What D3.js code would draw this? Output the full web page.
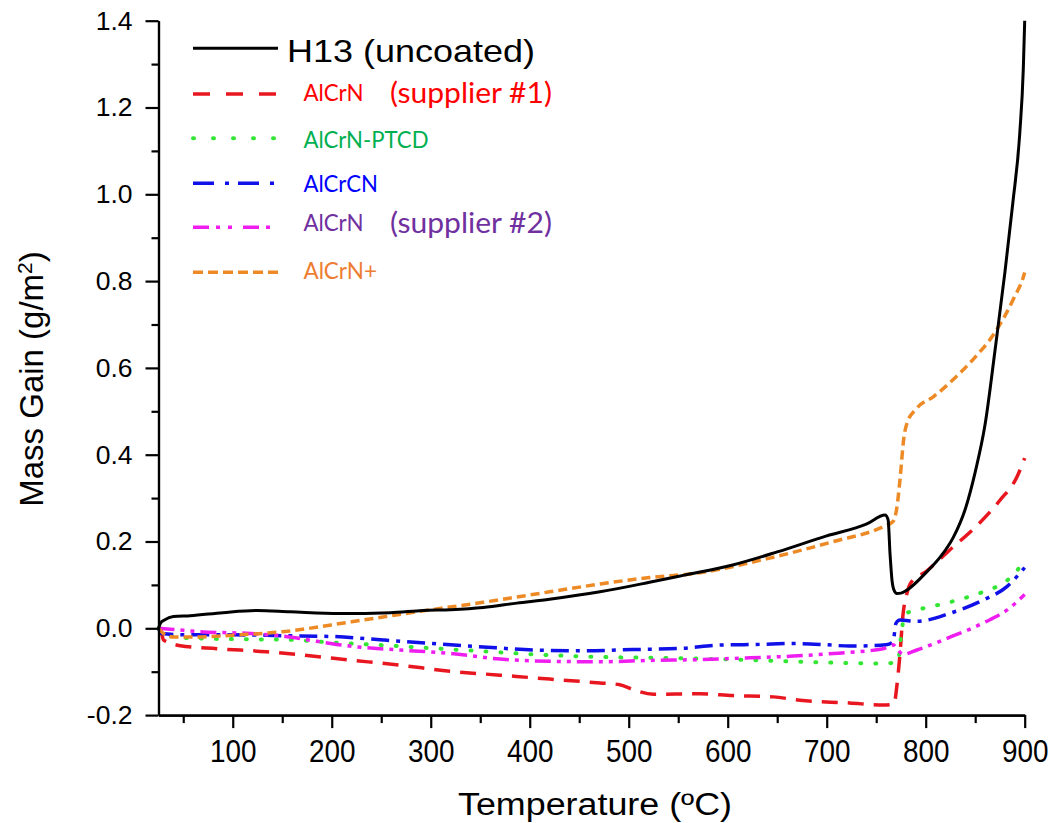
<!DOCTYPE html>
<html>
<head>
<meta charset="utf-8">
<script src="https://cdn.jsdelivr.net/npm/d3@7"></script>
<style>
  body { margin: 0; background: #fff; }
  .axis path, .axis line { stroke: #000; stroke-width: 2.2; }
  .axis text { font-family: "Liberation Sans", Arial, sans-serif; fill: #000; }
</style>
</head>
<body>
<script>
// Temperature (C) and mass gain (g/m2) for each sample
var tempH13 = [25, 27, 31, 40, 57, 90, 124, 158, 208, 259, 292, 320, 353, 387, 420, 471, 521, 555, 605, 650, 700, 740, 759, 762, 764, 766, 768, 771, 775, 781, 801, 815, 828, 840, 850, 860, 870, 880, 888, 895, 898.6, 900];
var massH13 = [0.0, 0.012, 0.019, 0.027, 0.029, 0.036, 0.041, 0.038, 0.034, 0.036, 0.041, 0.043, 0.048, 0.058, 0.067, 0.084, 0.106, 0.122, 0.146, 0.176, 0.213, 0.240, 0.261, 0.25, 0.17, 0.11, 0.088, 0.080, 0.081, 0.088, 0.130, 0.165, 0.210, 0.275, 0.360, 0.470, 0.640, 0.820, 0.980, 1.14, 1.29, 1.40];

var tempSup1 = [25, 28, 30, 47, 84, 134, 168, 218, 269, 320, 370, 420, 471, 491, 504, 525, 572, 605, 646, 673, 723, 757, 768, 771, 774, 777, 781, 785, 801, 824, 851, 875, 892, 900];
var massSup1 = [0.0, -0.01, -0.027, -0.040, -0.047, -0.054, -0.061, -0.073, -0.085, -0.099, -0.108, -0.117, -0.126, -0.130, -0.141, -0.152, -0.151, -0.155, -0.158, -0.166, -0.172, -0.177, -0.174, -0.13, -0.06, 0.03, 0.08, 0.105, 0.132, 0.180, 0.235, 0.295, 0.348, 0.392];

var tempPTCD = [25, 28, 50, 101, 151, 202, 252, 302, 353, 404, 471, 521, 572, 622, 673, 723, 757, 772, 775, 779, 791, 824, 858, 882, 893, 900];
var massPTCD = [0.0, -0.008, -0.022, -0.025, -0.026, -0.033, -0.039, -0.046, -0.053, -0.060, -0.066, -0.068, -0.070, -0.073, -0.077, -0.080, -0.081, -0.078, -0.02, 0.033, 0.042, 0.060, 0.084, 0.110, 0.135, 0.165];

var tempCN = [25, 28, 50, 101, 151, 202, 252, 302, 353, 404, 454, 504, 555, 589, 633, 666, 700, 723, 760, 767, 770, 774, 791, 825, 858, 882, 900];
var massCN = [0.0, -0.012, -0.015, -0.015, -0.017, -0.019, -0.027, -0.035, -0.043, -0.050, -0.052, -0.049, -0.046, -0.039, -0.037, -0.035, -0.038, -0.041, -0.038, -0.031, 0.012, 0.019, 0.016, 0.035, 0.065, 0.096, 0.140];

var tempSup2 = [25, 37, 67, 118, 151, 185, 218, 269, 320, 370, 420, 471, 521, 572, 622, 666, 707, 757, 767, 772, 777, 791, 825, 858, 882, 900];
var massSup2 = [0.0, -0.002, -0.008, -0.012, -0.018, -0.030, -0.041, -0.050, -0.058, -0.071, -0.076, -0.077, -0.074, -0.072, -0.068, -0.064, -0.058, -0.047, -0.038, -0.050, -0.060, -0.050, -0.020, 0.012, 0.042, 0.078];

var tempPlus = [25, 30, 40, 60, 100, 150, 220, 286, 353, 420, 471, 521, 572, 639, 707, 757, 767, 771, 774, 778, 781, 791, 808, 831, 850, 868, 880, 890, 898, 900];
var massPlus = [0.0, -0.012, -0.020, -0.020, -0.016, -0.008, 0.015, 0.038, 0.060, 0.084, 0.102, 0.117, 0.128, 0.160, 0.200, 0.234, 0.246, 0.28, 0.342, 0.44, 0.472, 0.507, 0.534, 0.580, 0.625, 0.675, 0.720, 0.765, 0.805, 0.820];

var xMajorTicks = [100, 200, 300, 400, 500, 600, 700, 800, 900];
var xMinorTicks = [50, 150, 250, 350, 450, 550, 650, 750, 850];
var yMajorTicks = [-0.2, 0.0, 0.2, 0.4, 0.6, 0.8, 1.0, 1.2, 1.4];
var yMinorTicks = [-0.1, 0.1, 0.3, 0.5, 0.7, 0.9, 1.1, 1.3];

var svgWidth = 1052;
var svgHeight = 823;
var margin = { top: 20.7, right: 27.3, bottom: 107.9, left: 158.5 };
var width = svgWidth - margin.left - margin.right;
var height = svgHeight - margin.top - margin.bottom;

var svg = d3.select("body")
  .append("svg")
  .attr("width", svgWidth)
  .attr("height", svgHeight);

var chart = svg.append("g")
  .attr("transform", "translate(" + margin.left + "," + margin.top + ")");

var xScale = d3.scaleLinear().domain([25, 900]).range([0, width]);
var yScale = d3.scaleLinear().domain([-0.2, 1.4]).range([height, 0]);

// series styling
var series = [
  { t: tempSup1, m: massSup1, color: "#e8171f", dash: "16,10", lw: 3.5, cap: "butt", legDash: "17,16" },
  { t: tempPTCD, m: massPTCD, color: "#33e633", dash: "1,14", lw: 4, cap: "round", legDash: "1,19" },
  { t: tempCN, m: massCN, color: "#1010e8", dash: "18,7,4,7", lw: 3.5, cap: "butt", legDash: "21,11,4,9" },
  { t: tempSup2, m: massSup2, color: "#f01df0", dash: "16,6,4,6,4,6", lw: 3.5, cap: "butt", legDash: "16,7,4,8,4,11" },
  { t: tempPlus, m: massPlus, color: "#ee8a25", dash: "9,5", lw: 3.5, cap: "butt", legDash: "10,5" },
  { t: tempH13, m: massH13, color: "#000000", dash: null, lw: 3, cap: "butt", legDash: null }
];

var line = d3.line()
  .x(function (d) { return xScale(d[0]); })
  .y(function (d) { return yScale(d[1]); })
  .curve(d3.curveMonotoneX);

chart.selectAll(".series")
  .data(series)
  .enter().append("path")
  .attr("class", "series")
  .attr("d", function (s) { return line(d3.zip(s.t, s.m)); })
  .attr("fill", "none")
  .attr("stroke", function (s) { return s.color; })
  .attr("stroke-width", function (s) { return s.lw; })
  .attr("stroke-linecap", function (s) { return s.cap; })
  .attr("stroke-linejoin", "round")
  .attr("stroke-dasharray", function (s) { return s.dash; });

// Axes
var fmtY = function (d) { return d.toFixed(1); };

chart.append("g")
  .attr("class", "axis")
  .attr("transform", "translate(0," + height + ")")
  .call(d3.axisBottom(xScale).tickValues(xMinorTicks).tickSizeInner(8).tickSizeOuter(0).tickFormat(""));

var xAxisG = chart.append("g")
  .attr("class", "axis")
  .attr("transform", "translate(0," + height + ")")
  .call(d3.axisBottom(xScale).tickValues(xMajorTicks).tickSizeInner(13).tickSizeOuter(0).tickPadding(12).tickFormat(d3.format("d")));
xAxisG.selectAll("text")
  .style("font-size", "31px")
  .attr("transform", "scale(0.9,1)");

chart.append("g")
  .attr("class", "axis")
  .call(d3.axisLeft(yScale).tickValues(yMinorTicks).tickSizeInner(7).tickSizeOuter(0).tickFormat(""));

var yAxisG = chart.append("g")
  .attr("class", "axis")
  .call(d3.axisLeft(yScale).tickValues(yMajorTicks).tickSizeInner(13).tickSizeOuter(0).tickPadding(13).tickFormat(fmtY));
yAxisG.selectAll("text")
  .style("font-size", "26.5px");

// Axis titles
svg.append("text")
  .attr("x", 595)
  .attr("y", 815)
  .attr("text-anchor", "middle")
  .attr("textLength", 274)
  .attr("lengthAdjust", "spacingAndGlyphs")
  .style("font-family", "'Liberation Sans', Arial, sans-serif")
  .style("font-size", "31px")
  .text("Temperature (\u00baC)");

var yTitle = svg.append("text")
  .attr("transform", "translate(43,379) rotate(-90)")
  .attr("text-anchor", "middle")
  .style("font-family", "'Liberation Sans', Arial, sans-serif")
  .style("font-size", "33px");
yTitle.append("tspan").text("Mass Gain (g/m");
yTitle.append("tspan").attr("dy", "-11").style("font-size", "21px").text("2");
yTitle.append("tspan").attr("dy", "11").text(")");

// Legend
var legendLineY = [48.3, 94, 138.3, 183.3, 227.3, 272.3];
var legendOrder = [5, 0, 1, 2, 3, 4];
legendOrder.forEach(function (si, i) {
  var s = series[si];
  svg.append("line")
    .attr("x1", 193).attr("x2", 278)
    .attr("y1", legendLineY[i]).attr("y2", legendLineY[i])
    .attr("stroke", s.color)
    .attr("stroke-width", s.lw)
    .attr("stroke-linecap", s.cap)
    .attr("stroke-dasharray", s.legDash);
});

var legendTexts = [
  { txt: "H13 (uncoated)", x: 287, y: 61.7, w: 248, size: 32, color: "#000", font: "'Liberation Sans', Arial, sans-serif" },
  { txt: "AlCrN", x: 303.5, y: 101, w: 60, size: 23, color: "#ff0000", font: "Lato, 'Open Sans', sans-serif" },
  { txt: "(supplier #1)", x: 390, y: 103.3, w: 162, size: 28, color: "#ff0000", font: "Lato, 'Open Sans', sans-serif" },
  { txt: "AlCrN-PTCD", x: 303.5, y: 148.3, w: 125, size: 23, color: "#00b050", font: "Lato, 'Open Sans', sans-serif" },
  { txt: "AlCrCN", x: 303.5, y: 191.7, w: 74.5, size: 23, color: "#0000ff", font: "Lato, 'Open Sans', sans-serif" },
  { txt: "AlCrN", x: 303.5, y: 231, w: 60, size: 23, color: "#7030a0", font: "Lato, 'Open Sans', sans-serif" },
  { txt: "(supplier #2)", x: 390, y: 233.3, w: 162, size: 28, color: "#7030a0", font: "Lato, 'Open Sans', sans-serif" },
  { txt: "AlCrN+", x: 303.5, y: 279.3, w: 73.5, size: 23, color: "#ed7d31", font: "Lato, 'Open Sans', sans-serif" }
];

svg.selectAll(".legend-text")
  .data(legendTexts)
  .enter().append("text")
  .attr("class", "legend-text")
  .attr("x", function (d) { return d.x; })
  .attr("y", function (d) { return d.y; })
  .attr("textLength", function (d) { return d.w; })
  .attr("lengthAdjust", "spacingAndGlyphs")
  .style("font-family", function (d) { return d.font; })
  .style("font-size", function (d) { return d.size + "px"; })
  .style("fill", function (d) { return d.color; })
  .text(function (d) { return d.txt; });
</script>
</body>
</html>
